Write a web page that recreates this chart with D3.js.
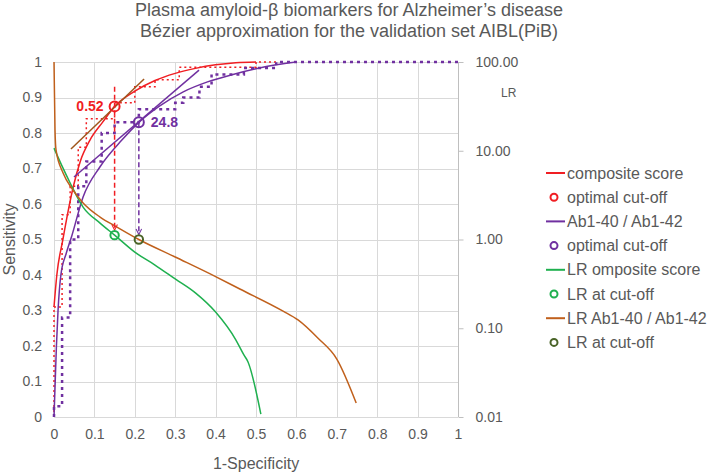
<!DOCTYPE html>
<html>
<head>
<meta charset="utf-8">
<script src="https://cdn.jsdelivr.net/npm/d3@7"></script>
<style>
  body { margin: 0; background: #fff; }
  text { font-family: "Liberation Sans", Arial, sans-serif; fill: #595959; }
</style>
</head>
<body>
<svg id="chart" width="714" height="475"></svg>
<script>
// ---------- DATA ----------
const titleLines = ["Plasma amyloid-\u03b2 biomarkers for Alzheimer\u2019s disease",
                    "B\u00e9zier approximation for the validation set AIBL(PiB)"];
const xTicks = [0, 0.1, 0.2, 0.3, 0.4, 0.5, 0.6, 0.7, 0.8, 0.9, 1];
const yTicks = [0, 0.1, 0.2, 0.3, 0.4, 0.5, 0.6, 0.7, 0.8, 0.9, 1];
const lrTicks = [0.01, 0.1, 1, 10, 100];

// Bezier-approximated ROC curves (1-specificity, sensitivity)
const compFpr  = [0, 0.007, 0.022, 0.035, 0.048, 0.065, 0.089, 0.12, 0.15, 0.2, 0.25, 0.3, 0.35, 0.4, 0.45, 0.5];
const compSens = [0.31, 0.40, 0.50, 0.58, 0.65, 0.72, 0.78, 0.83, 0.875, 0.918, 0.948, 0.968, 0.982, 0.992, 0.998, 1.0];
const ratioFpr  = [0, 0.003, 0.006, 0.01, 0.017, 0.03, 0.044, 0.072, 0.114, 0.168, 0.21, 0.26, 0.32, 0.38, 0.443, 0.5, 0.55, 0.6];
const ratioSens = [0, 0.1, 0.2, 0.3, 0.4, 0.46, 0.51, 0.62, 0.705, 0.78, 0.83, 0.875, 0.916, 0.944, 0.965, 0.981, 0.992, 1.0];

// Empirical ROC step functions (vertices)
const compStepFpr  = [0, 0, 0.02, 0.02, 0.04, 0.04, 0.06, 0.06, 0.08, 0.08, 0.15, 0.15, 0.2, 0.2, 0.25, 0.25, 0.31, 0.31, 0.5, 0.5, 0.55];
const compStepSens = [0, 0.31, 0.31, 0.57, 0.57, 0.65, 0.65, 0.76, 0.76, 0.84, 0.84, 0.885, 0.885, 0.93, 0.93, 0.95, 0.95, 0.985, 0.985, 1, 1];
const ratioStepFpr  = [0, 0, 0.02, 0.02, 0.04, 0.04, 0.06, 0.06, 0.08, 0.08, 0.118, 0.118, 0.15, 0.15, 0.21, 0.21, 0.30, 0.30, 0.32, 0.32, 0.36, 0.36, 0.39, 0.39, 0.47, 0.47, 0.55, 0.55, 1];
const ratioStepSens = [0, 0.03, 0.03, 0.28, 0.28, 0.5, 0.5, 0.65, 0.65, 0.72, 0.72, 0.80, 0.80, 0.83, 0.83, 0.867, 0.867, 0.885, 0.885, 0.90, 0.90, 0.93, 0.93, 0.965, 0.965, 0.983, 0.983, 1, 1];

// Likelihood ratio curves (1-specificity, LR on log axis)
const lrCompFpr = [0, 0.02, 0.04, 0.072, 0.114, 0.15, 0.2, 0.25, 0.3, 0.35, 0.4, 0.45, 0.47, 0.48, 0.512];
const lrCompVal = [10.7, 6.7, 4.33, 2.32, 1.53, 1.12, 0.72, 0.516, 0.359, 0.25, 0.152, 0.074, 0.05, 0.042, 0.0108];
const lrRatioFpr = [0, 0.0025, 0.005, 0.0225, 0.047, 0.072, 0.114, 0.156, 0.21, 0.3, 0.4, 0.46, 0.567, 0.604, 0.653, 0.70, 0.748];
const lrRatioVal = [100, 17.1, 10.2, 5.6, 3.61, 2.58, 1.79, 1.38, 1.0, 0.635, 0.382, 0.277, 0.156, 0.124, 0.0776, 0.045, 0.0144];

// Tangent lines at optimal cut-offs
const tanCompFpr = [0.042, 0.223], tanCompSens = [0.755, 0.952];
const tanRatioFpr = [0.0495, 0.359], tanRatioSens = [0.676, 0.977];

// Optimal cut-offs
const cutComp  = { fpr: 0.15, sens: 0.875, lr: 1.12, label: "0.52", top: 0.93 };
const cutRatio = { fpr: 0.21, sens: 0.83,  lr: 1.0,  label: "24.8", top: 0.83 };

const legendLabels = ["composite score", "optimal cut-off", "Ab1-40 / Ab1-42", "optimal cut-off",
                      "LR omposite score", "LR at cut-off", "LR Ab1-40 / Ab1-42", "LR at cut-off"];
const legendTypes  = ["line", "circle", "line", "circle", "line", "circle", "line", "circle"];

// ---------- STYLE ----------
const RED = "#f01e23", PURPLE = "#7030a0", GREEN = "#1fb04f", BROWN = "#c0601c", OLIVE = "#4a6428", TAN = "#a0561c";
const legendColors = [RED, RED, PURPLE, PURPLE, GREEN, GREEN, BROWN, OLIVE];

const svg = d3.select("#chart");
const x = d3.scaleLinear().domain([0, 1]).range([54, 458]);
const y = d3.scaleLinear().domain([0, 1]).range([417, 62]);
const yR = d3.scaleLog().domain([0.01, 100]).range([417, 62]);

// Title
svg.selectAll("text.title").data(titleLines).join("text")
  .attr("class", "title")
  .attr("x", 349).attr("y", (d, i) => 16 + i * 21)
  .attr("text-anchor", "middle").style("font-size", "18px").text(d => d);

// Grid
const grid = svg.append("g").attr("stroke", "#d9d9d9").attr("stroke-width", 1);
grid.selectAll("line.v").data(xTicks).join("line")
  .attr("x1", d => Math.round(x(d)) + 0.5).attr("x2", d => Math.round(x(d)) + 0.5)
  .attr("y1", y(0)).attr("y2", y(1));
grid.selectAll("line.h").data(yTicks).join("line")
  .attr("x1", x(0)).attr("x2", x(1))
  .attr("y1", d => Math.round(y(d)) + 0.5).attr("y2", d => Math.round(y(d)) + 0.5);

// Axes
const fmt = d => d3.format("~g")(d);
const gL = svg.append("g").attr("transform", `translate(${x(0)},0)`)
  .call(d3.axisLeft(y).tickValues(yTicks).tickFormat(fmt).tickSize(0).tickPadding(12));
const gB = svg.append("g").attr("transform", `translate(0,${y(0)})`)
  .call(d3.axisBottom(x).tickValues(xTicks).tickFormat(fmt).tickSize(0).tickPadding(12));
const gR = svg.append("g").attr("transform", `translate(${Math.round(x(1)) + 0.5},0)`)
  .call(d3.axisRight(yR).tickValues(lrTicks).tickFormat(d3.format(".2f")).tickSize(5).tickPadding(12));
[gL, gB, gR].forEach(g => {
  g.select(".domain").remove();
  g.selectAll("text").style("font-size", "14px").attr("fill", "#595959");
  g.selectAll(".tick line").attr("stroke", "#bfbfbf");
});
gR.append("line").attr("y1", y(0)).attr("y2", y(1)).attr("stroke", "#bfbfbf");

svg.append("text").attr("x", 501).attr("y", 97).style("font-size", "12px").text("LR");
svg.append("text").attr("transform", `translate(15,${(y(0) + y(1)) / 2}) rotate(-90)`)
  .attr("text-anchor", "middle").style("font-size", "16px").text("Sensitivity");
svg.append("text").attr("x", (x(0) + x(1)) / 2).attr("y", 469)
  .attr("text-anchor", "middle").style("font-size", "16px").text("1-Specificity");

// Helpers
const zip = (a, b) => a.map((v, i) => [v, b[i]]);
const lineL = d3.line().x(d => x(d[0])).y(d => y(d[1]));
const smoothL = d3.line().x(d => x(d[0])).y(d => y(d[1])).curve(d3.curveMonotoneX);
const smoothR = d3.line().x(d => x(d[0])).y(d => yR(d[1])).curve(d3.curveMonotoneX);

const plot = svg.append("g").attr("fill", "none");

// Step functions
plot.append("path").attr("d", lineL(zip(compStepFpr, compStepSens)))
  .attr("stroke", RED).attr("stroke-width", 1.5).attr("stroke-dasharray", "2,3");
plot.append("path").attr("d", lineL(zip(ratioStepFpr, ratioStepSens)))
  .attr("stroke", PURPLE).attr("stroke-width", 2.5).attr("stroke-dasharray", "3,4");

// Smooth ROC curves
plot.append("path").attr("d", smoothL(zip(compFpr, compSens))).attr("stroke", RED).attr("stroke-width", 1.5);
plot.append("path").attr("d", smoothL(zip(ratioFpr, ratioSens))).attr("stroke", PURPLE).attr("stroke-width", 1.5);

// LR curves
plot.append("path").attr("d", smoothR(zip(lrCompFpr, lrCompVal))).attr("stroke", GREEN).attr("stroke-width", 1.5);
plot.append("path").attr("d", smoothR(zip(lrRatioFpr, lrRatioVal))).attr("stroke", BROWN).attr("stroke-width", 1.5);

// Tangent lines
plot.append("path").attr("d", lineL(zip(tanCompFpr, tanCompSens))).attr("stroke", TAN).attr("stroke-width", 1.5);
plot.append("path").attr("d", lineL(zip(tanRatioFpr, tanRatioSens))).attr("stroke", PURPLE).attr("stroke-width", 1.5);

// Arrow markers
const defs = svg.append("defs");
[["arrRed", RED], ["arrPur", PURPLE]].forEach(([id, c]) => {
  defs.append("marker").attr("id", id).attr("viewBox", "0 0 10 10").attr("refX", 9).attr("refY", 5)
    .attr("markerWidth", 7).attr("markerHeight", 7).attr("markerUnits", "userSpaceOnUse").attr("orient", "auto")
    .append("path").attr("d", "M1,1 L9,5 L1,9").attr("fill", "none").attr("stroke", c).attr("stroke-width", 1.5);
});

// Dashed arrows from optimal cut-off to LR
[[cutComp, RED, "arrRed"], [cutRatio, PURPLE, "arrPur"]].forEach(([c, col, m]) => {
  plot.append("line").attr("x1", x(c.fpr)).attr("x2", x(c.fpr))
    .attr("y1", y(c.top)).attr("y2", yR(c.lr) - 5)
    .attr("stroke", col).attr("stroke-width", 1.5).attr("stroke-dasharray", "5,3")
    .attr("marker-end", `url(#${m})`);
});

// Circles
const circ = (cx, cy, r, col) => plot.append("circle").attr("cx", cx).attr("cy", cy).attr("r", r)
  .attr("stroke", col).attr("stroke-width", 2).attr("fill", "none");
circ(x(cutComp.fpr), y(cutComp.sens), 5, RED);
circ(x(cutRatio.fpr), y(cutRatio.sens), 5, PURPLE);
circ(x(cutComp.fpr), yR(cutComp.lr), 4.2, GREEN);
circ(x(cutRatio.fpr), yR(cutRatio.lr), 4.2, OLIVE);

// Cut-off labels
svg.append("text").attr("x", x(cutComp.fpr) - 11).attr("y", y(cutComp.sens) + 5)
  .attr("text-anchor", "end").style("font-size", "14px").style("font-weight", "bold").style("fill", RED).text(cutComp.label);
svg.append("text").attr("x", x(cutRatio.fpr) + 12).attr("y", y(cutRatio.sens) + 5)
  .style("font-size", "14px").style("font-weight", "bold").style("fill", PURPLE).text(cutRatio.label);

// Legend
const lg = svg.append("g").attr("transform", "translate(546,173)");
const items = lg.selectAll("g").data(legendLabels).join("g").attr("transform", (d, i) => `translate(0,${i * 24.2})`);
items.each(function (d, i) {
  const g = d3.select(this);
  if (legendTypes[i] === "line") {
    g.append("line").attr("x1", 0).attr("x2", 19).attr("stroke", legendColors[i]).attr("stroke-width", 2);
  } else {
    g.append("circle").attr("cx", 8).attr("r", 3.5).attr("fill", "none").attr("stroke", legendColors[i]).attr("stroke-width", 2);
  }
  g.append("text").attr("x", 21).attr("dy", "0.35em").style("font-size", "16px").text(d);
});
</script>
</body>
</html>
